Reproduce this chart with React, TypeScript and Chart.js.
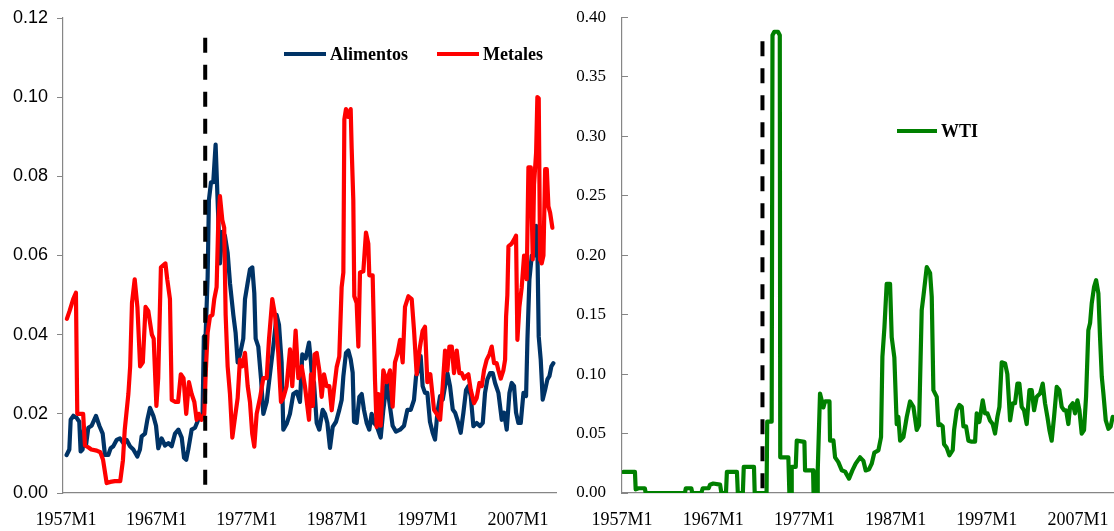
import { useEffect, useRef } from "react";
import { Chart, registerables } from "chart.js";

Chart.register(...registerables);

// ---------- DATA ----------
const xTickYears = [1957, 1967, 1977, 1987, 1997, 2007];
const breakYear = 1972.4;
const breakTopLeft = 0.115;
const breakTopRight = 0.38;

const alimentosYears = [
  1957.07, 1957.37, 1957.52, 1957.81, 1958.18, 1958.47, 1958.62, 1958.84, 1958.99, 1959.21,
  1959.47, 1959.84, 1960.32, 1960.69, 1961.06, 1961.31, 1961.68, 1961.94, 1962.23, 1962.6,
  1962.97, 1963.34, 1963.71, 1964.08, 1964.45, 1964.89, 1965.18, 1965.37, 1965.74, 1966.0,
  1966.29, 1966.66, 1966.96, 1967.21, 1967.58, 1967.95, 1968.32, 1968.69, 1969.06, 1969.43,
  1969.8, 1970.06, 1970.3, 1970.53, 1970.9, 1971.27, 1971.63, 1972.0, 1972.1, 1972.25,
  1972.45, 1972.67, 1972.81, 1973.04, 1973.29, 1973.55, 1973.77, 1974.03, 1974.29, 1974.58,
  1974.88, 1975.14, 1975.51, 1975.76, 1975.99, 1976.24, 1976.61, 1976.8, 1977.09, 1977.35,
  1977.61, 1977.83, 1977.98, 1978.27, 1978.57, 1978.83, 1979.2, 1979.56, 1979.93, 1980.3,
  1980.56, 1980.85, 1981.04, 1981.41, 1981.77, 1982.14, 1982.51, 1982.88, 1983.14, 1983.51,
  1983.88, 1984.1, 1984.25, 1984.43, 1984.73, 1985.02, 1985.39, 1985.65, 1985.91, 1986.2,
  1986.5, 1986.87, 1987.23, 1987.49, 1987.68, 1987.97, 1988.23, 1988.49, 1988.71, 1988.86,
  1989.15, 1989.45, 1989.71, 1989.96, 1990.26, 1990.55, 1990.81, 1991.07, 1991.36, 1991.81,
  1992.1, 1992.47, 1992.84, 1993.13, 1993.5, 1993.95, 1994.39, 1994.76, 1995.13, 1995.49,
  1995.72, 1995.97, 1996.23, 1996.45, 1996.71, 1996.97, 1997.26, 1997.56, 1997.82, 1998.08,
  1998.38, 1998.67, 1998.93, 1999.19, 1999.48, 1999.78, 2000.04, 2000.29, 2000.66, 2000.96,
  2001.25, 2001.51, 2001.77, 2002.06, 2002.43, 2002.8, 2003.1, 2003.35, 2003.61, 2003.91,
  2004.2, 2004.46, 2004.83, 2005.2, 2005.46, 2005.75, 2006.05, 2006.3, 2006.56, 2006.78,
  2007.04, 2007.3, 2007.6, 2007.89, 2008.04, 2008.26, 2008.52, 2008.77, 2009.0, 2009.14,
  2009.29, 2009.51, 2009.73, 2009.99, 2010.25, 2010.47, 2010.69, 2010.91,
];
const alimentosValues = [
  0.0096, 0.011, 0.0185, 0.0195, 0.019, 0.018, 0.0105, 0.011, 0.016, 0.012,
  0.0165, 0.017, 0.0195, 0.017, 0.015, 0.0096, 0.0096, 0.0113, 0.0118, 0.0134,
  0.0138, 0.0126, 0.0134, 0.0118, 0.011, 0.0092, 0.011, 0.0143, 0.015, 0.0185,
  0.0215, 0.0195, 0.017, 0.0113, 0.0138, 0.012, 0.0126, 0.0118, 0.015, 0.016,
  0.014, 0.0089, 0.0084, 0.011, 0.016, 0.0165, 0.0185, 0.019, 0.019, 0.0395,
  0.04, 0.0547, 0.074, 0.0785, 0.0785, 0.088, 0.074, 0.058, 0.066, 0.065,
  0.0607, 0.053, 0.045, 0.0405, 0.033, 0.035, 0.039, 0.049, 0.053, 0.0565,
  0.057, 0.0505, 0.039, 0.037, 0.029, 0.02, 0.023, 0.03, 0.037, 0.045,
  0.0425, 0.033, 0.016, 0.0175, 0.02, 0.025, 0.0256, 0.023, 0.035, 0.034,
  0.038, 0.033, 0.028, 0.028, 0.0177, 0.016, 0.021, 0.02, 0.0177, 0.0114,
  0.0167, 0.018, 0.021, 0.0235, 0.0295, 0.0354, 0.036, 0.0338, 0.0304, 0.018,
  0.0177, 0.0243, 0.025, 0.021, 0.0177, 0.016, 0.02, 0.0177, 0.017, 0.014,
  0.021, 0.028, 0.0218, 0.017, 0.0155, 0.016, 0.017, 0.021, 0.021, 0.0235,
  0.0295, 0.031, 0.0346, 0.027, 0.0253, 0.0253, 0.018, 0.0152, 0.0135, 0.0203,
  0.0245, 0.0236, 0.027, 0.0303, 0.027, 0.0211, 0.0203, 0.0185, 0.0152, 0.0203,
  0.026, 0.027, 0.0245, 0.0169, 0.0177, 0.0169, 0.0177, 0.0253, 0.0287, 0.0303,
  0.0303, 0.0278, 0.0253, 0.0185, 0.0203, 0.016, 0.0253, 0.0278, 0.027, 0.0203,
  0.0177, 0.0177, 0.0253, 0.0245, 0.0387, 0.054, 0.06, 0.06, 0.0675, 0.0624,
  0.0395, 0.0337, 0.0236, 0.026, 0.0287, 0.0295, 0.032, 0.0328,
];

const metalesYears = [
  1957.1, 1957.4, 1957.8, 1958.1, 1958.25, 1958.9, 1959.1, 1959.5, 1959.8, 1960.4,
  1960.8, 1961.1, 1961.5, 1961.9, 1962.4, 1963.0, 1963.3, 1963.5, 1963.9, 1964.1,
  1964.3, 1964.6, 1964.9, 1965.2, 1965.5, 1965.8, 1966.1, 1966.5, 1966.7, 1967.0,
  1967.2, 1967.5, 1968.0, 1968.2, 1968.5, 1968.7, 1969.1, 1969.4, 1969.7, 1970.0,
  1970.3, 1970.6, 1970.9, 1971.2, 1971.45, 1971.7, 1972.0, 1972.3, 1972.45, 1972.67,
  1972.93, 1973.2, 1973.4, 1973.66, 1973.85, 1974.03, 1974.29, 1974.5, 1974.66, 1974.88,
  1975.14, 1975.4, 1975.69, 1975.99, 1976.24, 1976.5, 1976.8, 1977.1, 1977.35, 1977.6,
  1977.83, 1978.09, 1978.46, 1978.83, 1979.2, 1979.45, 1979.82, 1980.12, 1980.48, 1980.78,
  1981.04, 1981.4, 1981.78, 1982.03, 1982.4, 1982.7, 1983.07, 1983.43, 1983.88, 1984.1,
  1984.3, 1984.5, 1984.73, 1985.02, 1985.28, 1985.54, 1985.83, 1986.13, 1986.39, 1986.64,
  1986.94, 1987.23, 1987.49, 1987.68, 1987.79, 1987.97, 1988.23, 1988.49, 1988.6, 1988.78,
  1988.89, 1989.15, 1989.34, 1989.52, 1989.89, 1990.18, 1990.44, 1990.55, 1990.92, 1991.18,
  1991.36, 1991.55, 1991.81, 1992.1, 1992.47, 1992.84, 1993.13, 1993.39, 1993.65, 1993.95,
  1994.24, 1994.5, 1994.87, 1995.24, 1995.5, 1995.79, 1996.16, 1996.45, 1996.71, 1996.97,
  1997.3, 1997.71, 1998.0, 1998.38, 1998.67, 1998.93, 1999.19, 1999.41, 1999.67, 1999.92,
  2000.22, 2000.51, 2000.77, 2001.03, 2001.25, 2001.51, 2001.77, 2002.14, 2002.43, 2002.73,
  2002.99, 2003.24, 2003.54, 2003.83, 2004.09, 2004.35, 2004.64, 2004.83, 2005.09, 2005.38,
  2005.57, 2005.68, 2005.82, 2005.94, 2006.3, 2006.56, 2006.78, 2006.93, 2007.15, 2007.41,
  2007.67, 2007.96, 2008.15, 2008.41, 2008.63, 2008.77, 2009.0, 2009.14, 2009.29, 2009.44,
  2009.62, 2009.81, 2010.0, 2010.18, 2010.36, 2010.55, 2010.8,
];
const metalesValues = [
  0.044, 0.046, 0.049, 0.0506, 0.02, 0.02, 0.012, 0.0115, 0.011, 0.0107,
  0.0103, 0.0084, 0.0025, 0.0028, 0.003, 0.003, 0.0083, 0.016, 0.025, 0.032,
  0.048, 0.054, 0.047, 0.032, 0.033, 0.047, 0.046, 0.04, 0.039, 0.022,
  0.029, 0.057, 0.058, 0.054, 0.049, 0.0235, 0.023, 0.023, 0.03, 0.029,
  0.02, 0.028, 0.025, 0.023, 0.0185, 0.02, 0.0185, 0.02, 0.03, 0.0405,
  0.0446, 0.045, 0.049, 0.052, 0.069, 0.075, 0.069, 0.067, 0.045, 0.032,
  0.025, 0.014, 0.019, 0.024, 0.0337, 0.032, 0.0354, 0.027, 0.023, 0.015,
  0.0117, 0.02, 0.024, 0.029, 0.029, 0.0387, 0.049, 0.045, 0.0354, 0.023,
  0.024, 0.027, 0.0363, 0.027, 0.041, 0.029, 0.032, 0.027, 0.0185, 0.03,
  0.022, 0.035, 0.0354, 0.031, 0.0243, 0.03, 0.027, 0.027, 0.0209, 0.026,
  0.0318, 0.0345, 0.052, 0.0557, 0.0944, 0.097, 0.095, 0.097, 0.087, 0.074,
  0.0497, 0.048, 0.037, 0.0557, 0.056, 0.0658, 0.063, 0.055, 0.055, 0.0285,
  0.0167, 0.025, 0.017, 0.031, 0.028, 0.031, 0.0218, 0.033, 0.035, 0.0387,
  0.033, 0.047, 0.0497, 0.049, 0.041, 0.03, 0.037, 0.041, 0.042, 0.028,
  0.03, 0.021, 0.02, 0.0185, 0.027, 0.036, 0.031, 0.037, 0.037, 0.0303,
  0.036, 0.0303, 0.0303, 0.0289, 0.0295, 0.03, 0.026, 0.0227, 0.024, 0.0278,
  0.027, 0.031, 0.0337, 0.035, 0.037, 0.0328, 0.0328, 0.031, 0.0289, 0.031,
  0.0337, 0.0446, 0.05, 0.0623, 0.063, 0.064, 0.065, 0.0387, 0.047, 0.052,
  0.06, 0.054, 0.0823, 0.0823, 0.059, 0.078, 0.086, 0.1, 0.0997, 0.059,
  0.058, 0.06, 0.0818, 0.0818, 0.0724, 0.0708, 0.067,
];

const wtiYears = [
  1957.15, 1958.42, 1958.5, 1958.8, 1959.5, 1959.6, 1963.9, 1964.0, 1964.6, 1964.7,
  1965.7, 1965.85, 1966.5, 1966.65, 1967.0, 1967.75, 1967.9, 1968.4, 1968.5, 1969.6,
  1969.7, 1970.25, 1970.35, 1971.47, 1971.55, 1972.85, 1972.92, 1973.41, 1973.5, 1973.7,
  1974.1, 1974.3, 1974.35, 1975.24, 1975.35, 1975.55, 1975.61, 1976.05, 1976.16, 1977.0,
  1977.07, 1977.95, 1978.0, 1978.4, 1978.46, 1978.71, 1979.08, 1979.26, 1979.75, 1979.81,
  1980.18, 1980.36, 1980.72, 1981.09, 1981.46, 1981.89, 1982.26, 1982.62, 1983.1, 1983.47,
  1983.72, 1984.09, 1984.38, 1984.67, 1985.11, 1985.4, 1985.55, 1985.77, 1986.02, 1986.39,
  1986.57, 1986.86, 1987.12, 1987.3, 1987.49, 1987.85, 1988.22, 1988.58, 1988.95, 1989.31,
  1989.57, 1989.86, 1990.04, 1990.41, 1990.78, 1990.96, 1991.14, 1991.51, 1991.69, 1991.87,
  1992.16, 1992.31, 1992.6, 1992.89, 1993.26, 1993.41, 1993.7, 1993.99, 1994.25, 1994.43,
  1994.72, 1994.98, 1995.34, 1995.71, 1995.89, 1996.18, 1996.55, 1996.8, 1997.06, 1997.35,
  1997.64, 1997.9, 1998.16, 1998.38, 1998.63, 1999.0, 1999.25, 1999.55, 1999.84, 2000.09,
  2000.35, 2000.57, 2000.82, 2001.08, 2001.37, 2001.67, 2001.92, 2002.18, 2002.47, 2002.84,
  2003.13, 2003.38, 2003.64, 2003.86, 2004.11, 2004.37, 2004.66, 2004.95, 2005.21, 2005.47,
  2005.69, 2005.94, 2006.12, 2006.42, 2006.67, 2006.93, 2007.15, 2007.4, 2007.66, 2007.88,
  2008.13, 2008.32, 2008.5, 2008.76, 2008.98, 2009.23, 2009.41, 2009.6, 2009.78, 2010.04,
  2010.33, 2010.58, 2010.8,
];
const wtiValues = [
  0.0177, 0.0177, 0.003, 0.004, 0.004, 0, 0, 0.004, 0.004, 0,
  0, 0.004, 0.004, 0.007, 0.008, 0.007, 0, 0, 0.0177, 0.0177,
  0, 0, 0.022, 0.022, 0, 0, 0.06, 0.06, 0.385, 0.388,
  0.388, 0.385, 0.03, 0.03, 0, 0, 0.022, 0.022, 0.044, 0.043,
  0.019, 0.019, 0, 0, 0.019, 0.0837, 0.072, 0.077, 0.077, 0.044,
  0.0442, 0.03, 0.026, 0.0191, 0.018, 0.0121, 0.019, 0.0247, 0.03, 0.027,
  0.019, 0.02, 0.0247, 0.034, 0.0358, 0.047, 0.1145, 0.139, 0.176, 0.176,
  0.131, 0.114, 0.058, 0.064, 0.044, 0.047, 0.064, 0.077, 0.0725, 0.053,
  0.057, 0.1538, 0.165, 0.19, 0.185, 0.165, 0.0865, 0.0809, 0.057, 0.058,
  0.056, 0.041, 0.038, 0.0317, 0.036, 0.053, 0.0696, 0.074, 0.0725, 0.056,
  0.056, 0.044, 0.0432, 0.0432, 0.067, 0.0597, 0.078, 0.067, 0.067, 0.061,
  0.058, 0.05, 0.064, 0.0725, 0.11, 0.109, 0.1, 0.061, 0.0755, 0.0755,
  0.092, 0.092, 0.0725, 0.0696, 0.058, 0.0865, 0.0865, 0.0696, 0.081, 0.0837,
  0.092, 0.0755, 0.064, 0.053, 0.044, 0.064, 0.0893, 0.0865, 0.0725, 0.0696,
  0.0696, 0.058, 0.0725, 0.0755, 0.067, 0.078, 0.0696, 0.05, 0.053, 0.081,
  0.137, 0.143, 0.1595, 0.1735, 0.179, 0.168, 0.131, 0.098, 0.0837, 0.061,
  0.054, 0.056, 0.064,
];

const leftSeriesLabels = ["Alimentos", "Metales"];
const rightSeriesLabels = ["WTI"];
const leftYTicks = [0, 0.02, 0.04, 0.06, 0.08, 0.1, 0.12];
const rightYTicks = [0, 0.05, 0.1, 0.15, 0.2, 0.25, 0.3, 0.35, 0.4];

// ---------- HELPERS ----------
const toPoints = (xs: number[], ys: number[]) => xs.map((x, i) => ({ x, y: ys[i] }));

const AXIS_GRAY = "#868686";

const manualLegend = {
  id: "manualLegend",
  afterDraw(chart: any, _args: any, opts: any) {
    const ctx = chart.ctx as CanvasRenderingContext2D;
    (opts.items || []).forEach((it: any) => {
      const ds = chart.data.datasets[it.dataset];
      ctx.save();
      ctx.strokeStyle = ds.borderColor;
      ctx.lineWidth = 4;
      ctx.lineCap = "butt";
      ctx.beginPath();
      ctx.moveTo(it.x, it.y);
      ctx.lineTo(it.x + it.len, it.y);
      ctx.stroke();
      ctx.font = 'bold 18px "Liberation Serif"';
      ctx.fillStyle = "#000";
      ctx.textBaseline = "middle";
      ctx.textAlign = "left";
      ctx.fillText(ds.label, it.x + it.len + 4, it.y + 1);
      ctx.restore();
    });
  },
};

const lineStyle = (color: string) => ({
  borderColor: color,
  backgroundColor: color,
  borderWidth: 4.2,
  pointRadius: 0,
  tension: 0,
  fill: false,
  borderJoinStyle: "round" as const,
  borderCapStyle: "round" as const,
});

const zeroPadding = (s: any) => {
  s.paddingTop = 0;
  s.paddingBottom = 0;
  s.paddingLeft = 0;
  s.paddingRight = 0;
};

function xScale(min: number, max: number) {
  return {
    type: "linear" as const,
    min,
    max,
    grid: { display: false, drawTicks: false },
    border: { display: true, color: AXIS_GRAY, width: 1.2 },
    ticks: {
      autoSkip: false,
      maxRotation: 0,
      padding: 16,
      color: "#000",
      font: { family: '"Liberation Serif"', size: 18 },
      callback: (v: any) => `${v}M1`,
    },
    afterBuildTicks: (s: any) => {
      s.ticks = xTickYears.map((v) => ({ value: v }));
    },
    afterFit: (s: any) => {
      s.height = 38;
      zeroPadding(s);
    },
  };
}

export default function App() {
  const leftRef = useRef<HTMLCanvasElement | null>(null);
  const rightRef = useRef<HTMLCanvasElement | null>(null);

  useEffect(() => {
    const left = new Chart(leftRef.current as HTMLCanvasElement, {
      type: "line",
      data: {
        datasets: [
          {
            label: leftSeriesLabels[0],
            data: toPoints(alimentosYears, alimentosValues),
            ...lineStyle("#003366"),
            order: 2,
          },
          {
            label: leftSeriesLabels[1],
            data: toPoints(metalesYears, metalesValues),
            ...lineStyle("#FF0000"),
            order: 1,
          },
          {
            label: "break",
            data: [
              { x: breakYear, y: breakTopLeft },
              { x: breakYear, y: 0 },
            ],
            borderColor: "#000",
            borderWidth: 4,
            borderDash: [15, 12],
            pointRadius: 0,
            order: 0,
          },
        ] as any,
      },
      options: {
        animation: false,
        responsive: false,
        events: [],
        layout: { padding: { top: 18, right: 4, left: 0, bottom: 0 } },
        plugins: {
          legend: { display: false },
          tooltip: { enabled: false },
          manualLegend: {
            items: [
              { dataset: 0, x: 284, y: 54, len: 42 },
              { dataset: 1, x: 437, y: 54, len: 42 },
            ],
          },
        } as any,
        scales: {
          x: xScale(1956.67, 2011.2),
          y: {
            type: "linear",
            min: 0,
            max: 0.12,
            grid: { display: true, drawOnChartArea: false, drawTicks: true, tickLength: 6, color: AXIS_GRAY },
            border: { display: true, color: AXIS_GRAY, width: 1.2 },
            ticks: {
              padding: 9,
              color: "#000",
              font: { family: '"Liberation Sans"', size: 18 },
              callback: (v: any) => Number(v).toFixed(2),
            },
            afterBuildTicks: (s: any) => {
              s.ticks = leftYTicks.map((v) => ({ value: v }));
            },
            afterFit: (s: any) => {
              s.width = 63;
              zeroPadding(s);
            },
          },
        } as any,
      },
      plugins: [manualLegend],
    });

    const right = new Chart(rightRef.current as HTMLCanvasElement, {
      type: "line",
      data: {
        datasets: [
          {
            label: rightSeriesLabels[0],
            data: toPoints(wtiYears, wtiValues),
            ...lineStyle("#008000"),
            order: 1,
          },
          {
            label: "break",
            data: [
              { x: breakYear, y: breakTopRight },
              { x: breakYear, y: 0 },
            ],
            borderColor: "#000",
            borderWidth: 4,
            borderDash: [15, 12],
            pointRadius: 0,
            order: 0,
          },
        ] as any,
      },
      options: {
        animation: false,
        responsive: false,
        events: [],
        layout: { padding: { top: 17.5, right: 10, left: 0, bottom: 0 } },
        plugins: {
          legend: { display: false },
          tooltip: { enabled: false },
          manualLegend: {
            items: [{ dataset: 0, x: 337, y: 131, len: 40 }],
          },
        } as any,
        scales: {
          x: xScale(1957.0, 2011.6),
          y: {
            type: "linear",
            min: 0,
            max: 0.4,
            grid: { display: true, drawOnChartArea: false, drawTicks: true, tickLength: -6, color: AXIS_GRAY },
            border: { display: true, color: AXIS_GRAY, width: 1.2 },
            ticks: {
              padding: 22,
              color: "#000",
              font: { family: '"Liberation Serif"', size: 17 },
              callback: (v: any) => Number(v).toFixed(2),
            },
            afterBuildTicks: (s: any) => {
              s.ticks = rightYTicks.map((v) => ({ value: v }));
            },
            afterFit: (s: any) => {
              s.width = 62;
              zeroPadding(s);
            },
          },
        } as any,
      },
      plugins: [manualLegend],
    });

    return () => {
      left.destroy();
      right.destroy();
    };
  }, []);

  return (
    <div
      style={{
        position: "fixed",
        left: 0,
        top: 0,
        width: 1114,
        height: 531,
        overflow: "hidden",
        background: "#fff",
      }}
    >
      <canvas
        ref={leftRef}
        width={560}
        height={531}
        style={{ position: "absolute", left: 0, top: 0, width: 560, height: 531 }}
      />
      <canvas
        ref={rightRef}
        width={570}
        height={531}
        style={{ position: "absolute", left: 560, top: 0, width: 570, height: 531 }}
      />
    </div>
  );
}
